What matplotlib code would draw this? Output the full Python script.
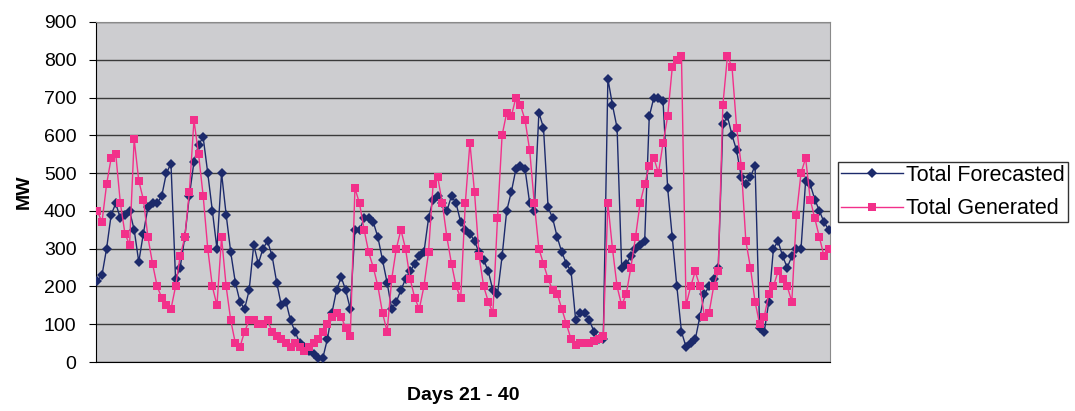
import numpy as np
import matplotlib
matplotlib.use("Agg")
import matplotlib.pyplot as plt

# ==== Dados: potência prevista x gerada (MW), dias 21 a 40, 8 leituras por dia ====
previsto = [
    215, 230, 300, 390, 420, 380, 390, 400, 350, 265,
    340, 410, 420, 420, 440, 500, 525, 220, 250, 330,
    440, 530, 575, 595, 500, 400, 300, 500, 390, 290,
    210, 160, 140, 190, 310, 260, 300, 320, 280, 210,
    150, 160, 110, 80, 50, 40, 30, 20, 10, 10,
    60, 130, 190, 225, 190, 140, 350, 350, 380, 380,
    370, 330, 270, 210, 140, 160, 190, 220, 240, 260,
    280, 290, 380, 430, 440, 420, 400, 440, 420, 370,
    350, 340, 320, 290, 270, 240, 190, 180, 280, 400,
    450, 510, 520, 510, 420, 400, 660, 620, 410, 380,
    330, 290, 260, 240, 110, 130, 130, 110, 80, 60,
    60, 750, 680, 620, 250, 260, 280, 300, 310, 320,
    650, 700, 700, 690, 460, 330, 200, 80, 40, 50,
    60, 120, 180, 200, 220, 250, 630, 650, 600, 560,
    490, 470, 490, 520, 90, 80, 160, 300, 320, 280,
    250, 280, 300, 300, 480, 470, 430, 400, 370, 350,
]

gerado = [
    400, 370, 470, 540, 550, 420, 340, 310, 590, 480,
    430, 330, 260, 200, 170, 150, 140, 200, 280, 330,
    450, 640, 550, 440, 300, 200, 150, 330, 200, 110,
    50, 40, 80, 110, 110, 100, 100, 110, 80, 70,
    60, 50, 40, 50, 40, 30, 40, 50, 60, 80,
    100, 120, 130, 120, 90, 70, 460, 420, 350, 290,
    250, 200, 130, 80, 220, 300, 350, 300, 220, 170,
    140, 200, 290, 470, 490, 420, 330, 260, 200, 170,
    420, 580, 450, 280, 200, 160, 130, 380, 600, 660,
    650, 700, 680, 640, 560, 420, 300, 260, 220, 190,
    180, 140, 100, 60, 45, 50, 50, 50, 55, 60,
    70, 420, 300, 200, 150, 180, 250, 330, 420, 470,
    520, 540, 500, 580, 650, 780, 800, 810, 150, 200,
    240, 200, 120, 130, 200, 240, 680, 810, 780, 620,
    520, 320, 250, 160, 100, 120, 180, 200, 240, 220,
    200, 160, 390, 500, 540, 430, 380, 330, 280, 300,
]

t = np.arange(len(previsto))

plt.rcParams['font.family'] = ['Liberation Sans', 'DejaVu Sans']

fig = plt.figure(figsize=(10.75, 4.11), dpi=100)
ax = fig.add_axes([0.0893, 0.1192, 0.6828, 0.8273])
ax.set_facecolor('#cdcdd0')

ax.plot(t, previsto, color='#1c2a6b', lw=1.0, marker='D', markersize=5.6,
        markeredgewidth=0, label='Total Forecasted', zorder=3)
ax.plot(t, gerado, color='#f2308a', lw=1.0, marker='s', markersize=6.2,
        markeredgewidth=0, label='Total Generated', zorder=4)

ax.set_xlim(t[0] - 0.3, t[-1] + 0.3)
ax.set_ylim(0, 900)
ax.set_yticks(range(0, 901, 100))
ax.set_xticks([])
ax.grid(axis='y', color='#3a3a3a', lw=1.0)
ax.set_axisbelow(True)

for lado in ['top', 'right']:
    ax.spines[lado].set_color('#8a8a8a')
for lado in ['left', 'bottom']:
    ax.spines[lado].set_color('black')
ax.tick_params(axis='y', labelsize=14, length=5, direction='out', pad=9)

ax.set_ylabel('MW', fontsize=14, fontweight='bold', labelpad=8)
ax.set_xlabel('Days 21 - 40', fontsize=14, fontweight='bold', labelpad=18)

leg = ax.legend(loc='center left', bbox_to_anchor=(1.011, 0.5), fontsize=15.5,
                frameon=True, fancybox=False, edgecolor='black',
                handlelength=2.9, borderpad=0.12, labelspacing=0.6,
                handletextpad=0.15, borderaxespad=0, markerscale=0.9)
leg.get_frame().set_linewidth(1.0)

plt.savefig('out.png', dpi=100)
